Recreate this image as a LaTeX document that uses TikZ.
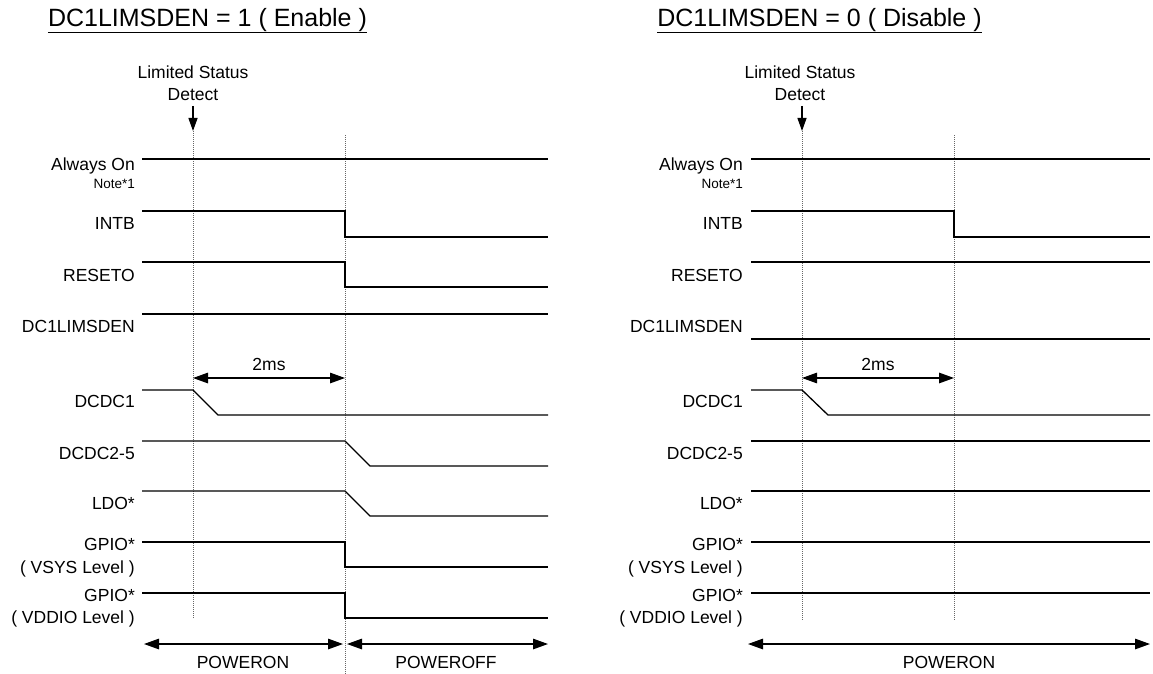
\documentclass[tikz,border=0pt]{standalone}
\usepackage{fontspec}
\setmainfont{Liberation Sans}
\usetikzlibrary{arrows.meta}
\begin{document}
\begin{tikzpicture}[x=1pt,y=-1pt,
  sig/.style={line width=1.3pt, line join=miter},
  guide/.style={draw=black!60, line width=0.6pt, dash pattern=on 1pt off 1pt},
  lbl/.style={anchor=base east, inner sep=0pt, font=\fontsize{17.5}{20}\selectfont},
  small/.style={anchor=base east, inner sep=0pt, font=\fontsize{13.5}{15}\selectfont},
  ctext/.style={anchor=base, inner sep=0pt, font=\fontsize{17.5}{20}\selectfont},
  titletext/.style={anchor=base, inner sep=0pt, font=\fontsize{25}{28}\selectfont},
  dimarrow/.style={line width=1.3pt, {Triangle[length=15pt,width=10.5pt]}-{Triangle[length=15pt,width=10.5pt]}},
  downarrow/.style={line width=1.3pt, -{Triangle[length=13pt,width=9pt]}},
]
\useasboundingbox (0,0) rectangle (1153,674);

% ================= LEFT PANEL =================
\node[titletext] (tl) at (207.5,27) {DC1LIMSDEN = 1 ( Enable )};
\draw[line width=1.4pt] (tl.south west) -- (tl.south east);

\node[ctext] (lsdA) at (193,79) {Limited Status};
\node[ctext] (lsdB) at (193,101) {Detect};
\coordinate (la0) at (193,106);
\coordinate (la1) at (193,131);
\draw[downarrow] (la0) -- (la1);

% guide lines
\coordinate (lg1t) at (193,131); \coordinate (lg1b) at (193,618);
\coordinate (lg2t) at (345,135); \coordinate (lg2b) at (345,674);
\draw[guide] (lg1t) -- (lg1b);
\draw[guide] (lg2t) -- (lg2b);

% labels
\node[lbl] (lAO) at (135,170) {Always On};
\node[small] (lN1) at (135,188) {Note*1};
\node[lbl] (lINTB) at (135,229) {INTB};
\node[lbl] (lRST) at (135,281) {RESETO};
\node[lbl] (lDCL) at (135,332) {DC1LIMSDEN};
\node[lbl] (lDC1) at (135,407) {DCDC1};
\node[lbl] (lDC2) at (135,459) {DCDC2-5};
\node[lbl] (lLDO) at (135,509) {LDO*};
\node[lbl] (lG1) at (135,550) {GPIO*};
\node[lbl] (lG1b) at (135,573) {( VSYS Level )};
\node[lbl] (lG2) at (135,601) {GPIO*};
\node[lbl] (lG2b) at (135,623) {( VDDIO Level )};

% signals
\draw[sig] (142,159) -- (548,159);
\draw[sig] (142,211) -- (345,211) -- (345,237) -- (548,237);
\draw[sig] (142,262) -- (345,262) -- (345,287) -- (548,287);
\draw[sig] (142,314) -- (548,314);
\draw[sig] (142,390) -- (193,390) -- (218,415) -- (548,415);
\draw[sig] (142,441) -- (345,441) -- (370,466) -- (548,466);
\draw[sig] (142,491) -- (345,491) -- (370,516) -- (548,516);
\draw[sig] (142,542) -- (345,542) -- (345,567) -- (548,567);
\draw[sig] (142,593) -- (345,593) -- (345,618) -- (548,618);

% 2ms
\coordinate (lt0) at (193,378); \coordinate (lt1) at (345,378);
\draw[dimarrow] (lt0) -- (lt1);
\node[ctext] (l2ms) at (269,370) {2ms};

% bottom
\coordinate (lb0) at (144,644); \coordinate (lb1) at (343,644);
\coordinate (lb2) at (347,644); \coordinate (lb3) at (548,644);
\draw[dimarrow] (lb0) -- (lb1);
\draw[dimarrow] (lb2) -- (lb3);
\node[ctext] (lpon) at (243,668) {POWERON};
\node[ctext] (lpoff) at (446,668) {POWEROFF};

% ================= RIGHT PANEL =================
\node[titletext] (tr) at (819.5,27) {DC1LIMSDEN = 0 ( Disable )};
\draw[line width=1.4pt] (tr.south west) -- (tr.south east);

\node[ctext] (rsdA) at (800,79) {Limited Status};
\node[ctext] (rsdB) at (800,101) {Detect};
\coordinate (ra0) at (802,106);
\coordinate (ra1) at (802,131);
\draw[downarrow] (ra0) -- (ra1);

\coordinate (rg1t) at (802,131); \coordinate (rg1b) at (802,620);
\coordinate (rg2t) at (954,135); \coordinate (rg2b) at (954,620);
\draw[guide] (rg1t) -- (rg1b);
\draw[guide] (rg2t) -- (rg2b);

\node[lbl] (rAO) at (743,170) {Always On};
\node[small] (rN1) at (743,188) {Note*1};
\node[lbl] (rINTB) at (743,229) {INTB};
\node[lbl] (rRST) at (743,281) {RESETO};
\node[lbl] (rDCL) at (743,332) {DC1LIMSDEN};
\node[lbl] (rDC1) at (743,407) {DCDC1};
\node[lbl] (rDC2) at (743,459) {DCDC2-5};
\node[lbl] (rLDO) at (743,509) {LDO*};
\node[lbl] (rG1) at (743,550) {GPIO*};
\node[lbl] (rG1b) at (743,573) {( VSYS Level )};
\node[lbl] (rG2) at (743,601) {GPIO*};
\node[lbl] (rG2b) at (743,623) {( VDDIO Level )};

\draw[sig] (751,159) -- (1150,159);
\draw[sig] (751,211) -- (954,211) -- (954,237) -- (1150,237);
\draw[sig] (751,262) -- (1150,262);
\draw[sig] (751,339) -- (1150,339);
\draw[sig] (751,390) -- (802,390) -- (828,415) -- (1150,415);
\draw[sig] (751,441) -- (1150,441);
\draw[sig] (751,491) -- (1150,491);
\draw[sig] (751,542) -- (1150,542);
\draw[sig] (751,593) -- (1150,593);

\coordinate (rt0) at (802,378); \coordinate (rt1) at (954,378);
\draw[dimarrow] (rt0) -- (rt1);
\node[ctext] (r2ms) at (878,370) {2ms};

\coordinate (rb0) at (748,644); \coordinate (rb1) at (1150,644);
\draw[dimarrow] (rb0) -- (rb1);
\node[ctext] (rpon) at (949,668) {POWERON};
\end{tikzpicture}
\end{document}
